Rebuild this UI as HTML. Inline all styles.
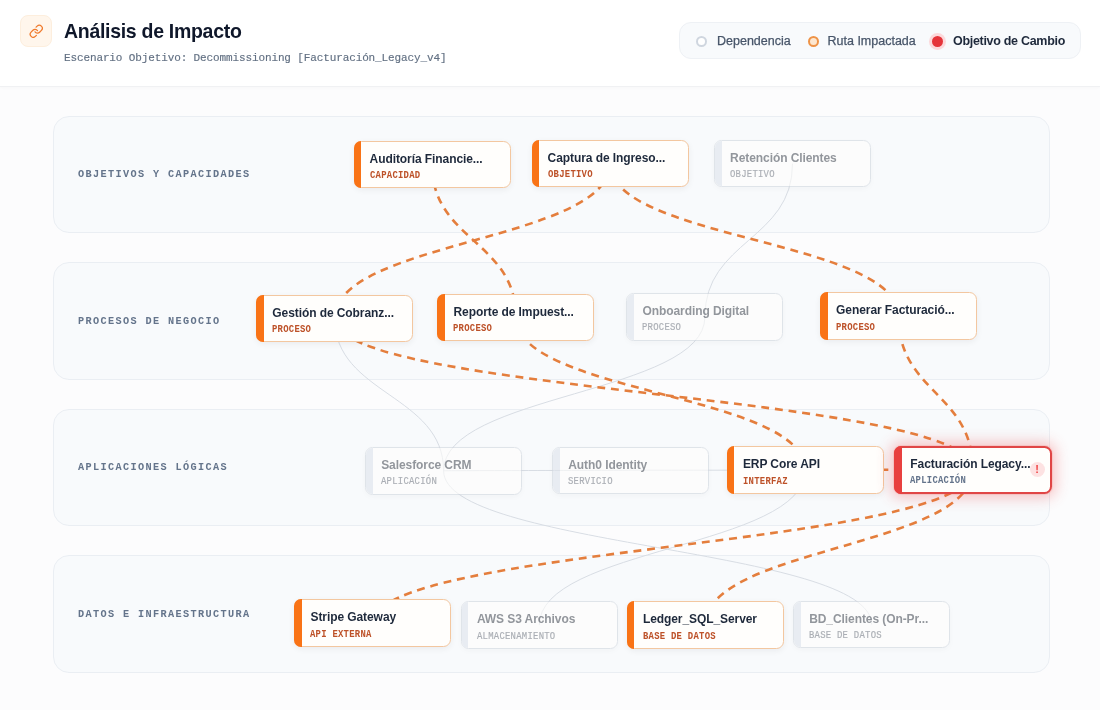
<!DOCTYPE html><html><head><meta charset="utf-8"><title>Análisis de Impacto</title><style>
*{box-sizing:border-box;margin:0;padding:0}
html,body{width:1100px;height:710px;overflow:hidden}
body{will-change:transform;background:#fcfcfd;font-family:"Liberation Sans",sans-serif;position:relative}
.hdr{position:absolute;left:0;top:0;width:1100px;height:87px;background:#fff;border-bottom:1px solid #f0f1f3;box-shadow:0 1px 3px rgba(0,0,0,0.025)}
.ico{position:absolute;left:20px;top:15px;width:32px;height:32px;border-radius:8px;background:#fff6ec;border:1px solid #fdeedd}
.ico svg{position:absolute;left:7.75px;top:7.75px}
.title{position:absolute;left:64px;top:20.85px;font-size:20.5px;line-height:20.5px;font-weight:700;color:#0f172a;white-space:nowrap;letter-spacing:-0.3px;transform:scaleX(0.95);transform-origin:0 0}
.sub{position:absolute;left:64px;top:53px;font-family:"Liberation Mono",monospace;font-size:11px;line-height:11px;letter-spacing:-0.12px;color:#627083;white-space:nowrap;-webkit-text-stroke:0.15px #627083}
.leg{position:absolute;left:679px;top:22px;width:402px;height:37px;border-radius:12px;background:#f8fafc;border:1px solid #eef1f5}
.li{position:absolute;top:0.7px;height:35px;line-height:35px;font-size:12.5px;color:#475569;white-space:nowrap;-webkit-text-stroke:0.25px #475569}
.dot{position:absolute;border-radius:50%}
.lane{position:absolute;left:52.5px;width:997.5px;height:117.6px;border-radius:16px;background:#f8fafc;border:1px solid #eaeef3}
.lbl{position:absolute;left:77.6px;font-family:"Liberation Mono",monospace;font-weight:700;font-size:11.5px;line-height:11.5px;letter-spacing:1.52px;color:#64748b;white-space:nowrap;transform:scaleX(0.89);transform-origin:0 0}
svg.edges{position:absolute;left:0;top:0}
.node{position:absolute;width:157px;height:47.5px;border-radius:7.5px;background:#fffefc;border:1px solid #f3c7a0;box-shadow:0 2px 6px rgba(15,23,42,0.06)}
.node .bar{position:absolute;left:-1px;top:-1px;bottom:-1px;width:7.5px;border-radius:7px 0 0 7px;background:#f97316}
.node .t{position:absolute;left:15.1px;top:10px;font-size:12px;font-weight:700;color:#1e293b;white-space:nowrap;letter-spacing:-0.08px}
.node .s{position:absolute;left:15.1px;top:28.3px;font-family:"Liberation Mono",monospace;font-weight:700;font-size:10.5px;line-height:10.5px;color:#bd5128;white-space:nowrap;letter-spacing:0.29px;transform:scaleX(0.85);transform-origin:0 0}
.node.f{opacity:0.6;border-color:#d0d6de;box-shadow:0 2px 6px rgba(15,23,42,0.05)}
.node.f .bar{left:0;top:0;bottom:0;width:6.5px;border-radius:6.5px 0 0 6.5px;background:#dfe4ec}
.node.f .t{color:#4f545d}
.node.f .s{color:#787d86;font-weight:400;-webkit-text-stroke:0.2px #787d86}
.node.t{width:158px;height:48px;border:2px solid #e04646;box-shadow:0 0 0 1px rgba(239,68,68,0.12),0 0 14px 4px rgba(239,68,68,0.3)}
.node.t .bar{left:-2px;top:-2px;bottom:-2px;width:8.3px;border-radius:7px 0 0 7px;background:#e8403f}
.node.t .t{left:14.1px;top:9px}
.node.t .s{left:14.1px;top:27.3px;color:#64748b}
.bang{position:absolute;width:15px;height:15px;border-radius:50%;background:#fde2e2;color:#ef4444;font-size:11px;font-weight:700;text-align:center;line-height:15px}
</style></head><body>
<div class="hdr">
<div class="ico"><svg width="14.5" height="14.5" viewBox="0 0 24 24" fill="none" stroke="#f07a2c" stroke-width="2.1" stroke-linecap="round" stroke-linejoin="round"><path d="M10 13a5 5 0 0 0 7.54.54l3-3a5 5 0 0 0-7.07-7.07l-1.72 1.71"/><path d="M14 11a5 5 0 0 0-7.54-.54l-3 3a5 5 0 0 0 7.07 7.07l1.71-1.71"/></svg></div>
<div class="title">Análisis de Impacto</div>
<div class="sub">Escenario Objetivo: Decommissioning [Facturación_Legacy_v4]</div>
<div class="leg">
<div class="dot" style="left:16px;top:12.5px;width:11px;height:11px;border:2px solid #cfd6df;background:#fff"></div>
<div class="li" style="left:37px">Dependencia</div>
<div class="dot" style="left:127.5px;top:12.5px;width:11px;height:11px;border:2px solid #ee9347;background:#fde7d0"></div>
<div class="li" style="left:147.5px">Ruta Impactada</div>
<div class="dot" style="left:251.5px;top:12.5px;width:11px;height:11px;background:#e5343a;box-shadow:0 0 0 3px #fcd9db"></div>
<div class="li" style="left:273px;font-weight:700;color:#1e293b;-webkit-text-stroke:0;letter-spacing:-0.3px">Objetivo de Cambio</div>
</div></div>
<div class="lane" style="top:115.6px"></div>
<div class="lbl" style="top:168.1px">OBJETIVOS Y CAPACIDADES</div>
<div class="lane" style="top:262.1px"></div>
<div class="lbl" style="top:314.6px">PROCESOS DE NEGOCIO</div>
<div class="lane" style="top:408.8px"></div>
<div class="lbl" style="top:461.3px">APLICACIONES LÓGICAS</div>
<div class="lane" style="top:555.4px"></div>
<div class="lbl" style="top:607.9px">DATOS E INFRAESTRUCTURA</div>
<svg class="edges" width="1100" height="710" viewBox="0 0 1100 710"><path d="M792.5,163.7 C792.5,240.3 704.9,240.3 704.9,316.9" fill="none" stroke="#d8dde4" stroke-width="1"/><path d="M704.9,316.9 C704.9,393.9 443.6,393.9 443.6,470.8" fill="none" stroke="#d8dde4" stroke-width="1"/><path d="M334.7,318.4 C334.7,394.6 443.6,394.6 443.6,470.8" fill="none" stroke="#d8dde4" stroke-width="1"/><path d="M443.6,470.8 C443.6,547.6 871.6,547.6 871.6,624.5" fill="none" stroke="#d8dde4" stroke-width="1"/><path d="M443.6,470.8 C443.6,470.5 630.7,470.5 630.7,470.2" fill="none" stroke="#d8dde4" stroke-width="1"/><path d="M630.7,470.2 C630.7,470.2 805.3,470.2 805.3,470.1" fill="none" stroke="#d8dde4" stroke-width="1"/><path d="M805.3,470.1 C805.3,547.6 539.3,547.6 539.3,625.1" fill="none" stroke="#d8dde4" stroke-width="1"/><path d="M432.0,164.2 C432.0,240.8 515.9,240.8 515.9,317.2" fill="none" stroke="#e47e3d" stroke-width="2.6" stroke-dasharray="7.9 5.85" stroke-dashoffset="-5.35"/><path d="M610.0,163.4 C610.0,240.9 334.7,240.9 334.7,318.4" fill="none" stroke="#e47e3d" stroke-width="2.6" stroke-dasharray="7.9 5.85" stroke-dashoffset="-7.25"/><path d="M610.0,163.4 C610.0,239.8 898.5,239.8 898.5,316.1" fill="none" stroke="#e47e3d" stroke-width="2.6" stroke-dasharray="7.9 5.85" stroke-dashoffset="-2.6"/><path d="M334.7,318.4 C334.7,393.9 972.7,393.9 972.7,469.4" fill="none" stroke="#e47e3d" stroke-width="2.6" stroke-dasharray="7.9 5.85" stroke-dashoffset="-3.9"/><path d="M515.9,317.2 C515.9,393.7 805.3,393.7 805.3,470.1" fill="none" stroke="#e47e3d" stroke-width="2.6" stroke-dasharray="7.9 5.85" stroke-dashoffset="-3.9"/><path d="M898.5,316.1 C898.5,392.8 972.7,392.8 972.7,469.4" fill="none" stroke="#e47e3d" stroke-width="2.6" stroke-dasharray="7.9 5.85" stroke-dashoffset="-0.7"/><path d="M805.3,470.1 C805.3,469.8 972.7,469.8 972.7,469.4" fill="none" stroke="#e47e3d" stroke-width="2.6" stroke-dasharray="7.9 5.85" stroke-dashoffset="-6.4"/><path d="M972.7,469.4 C972.7,546.3 372.9,546.3 372.9,623.1" fill="none" stroke="#e47e3d" stroke-width="2.6" stroke-dasharray="7.9 5.85" stroke-dashoffset="-5.6"/><path d="M972.7,469.4 C972.7,547.3 705.3,547.3 705.3,625.1" fill="none" stroke="#e47e3d" stroke-width="2.6" stroke-dasharray="7.9 5.85" stroke-dashoffset="-12.6"/></svg>
<div class="node" style="left:353.5px;top:140.5px"><div class="bar"></div><div class="t">Auditoría Financie...</div><div class="s">CAPACIDAD</div></div>
<div class="node" style="left:531.5px;top:139.7px"><div class="bar"></div><div class="t">Captura de Ingreso...</div><div class="s">OBJETIVO</div></div>
<div class="node f" style="left:714.0px;top:139.9px"><div class="bar"></div><div class="t">Retención Clientes</div><div class="s">OBJETIVO</div></div>
<div class="node" style="left:256.2px;top:294.6px"><div class="bar"></div><div class="t">Gestión de Cobranz...</div><div class="s">PROCESO</div></div>
<div class="node" style="left:437.4px;top:293.5px"><div class="bar"></div><div class="t">Reporte de Impuest...</div><div class="s">PROCESO</div></div>
<div class="node f" style="left:626.4px;top:293.2px"><div class="bar"></div><div class="t">Onboarding Digital</div><div class="s">PROCESO</div></div>
<div class="node" style="left:820.0px;top:292.4px"><div class="bar"></div><div class="t">Generar Facturació...</div><div class="s">PROCESO</div></div>
<div class="node f" style="left:365.1px;top:447.0px"><div class="bar"></div><div class="t">Salesforce CRM</div><div class="s">APLICACIÓN</div></div>
<div class="node f" style="left:552.2px;top:446.5px"><div class="bar"></div><div class="t">Auth0 Identity</div><div class="s">SERVICIO</div></div>
<div class="node" style="left:726.8px;top:446.4px"><div class="bar"></div><div class="t">ERP Core API</div><div class="s">INTERFAZ</div></div>
<div class="node t" style="left:894.2px;top:445.7px"><div class="bar"></div><div class="t">Facturación Legacy...</div><div class="s">APLICACIÓN</div></div>
<div class="bang" style="left:1029.7px;top:462.0px">!</div>
<div class="node" style="left:294.4px;top:599.4px"><div class="bar"></div><div class="t">Stripe Gateway</div><div class="s">API EXTERNA</div></div>
<div class="node f" style="left:460.8px;top:601.4px"><div class="bar"></div><div class="t">AWS S3 Archivos</div><div class="s">ALMACENAMIENTO</div></div>
<div class="node" style="left:626.8px;top:601.4px"><div class="bar"></div><div class="t">Ledger_SQL_Server</div><div class="s">BASE DE DATOS</div></div>
<div class="node f" style="left:793.1px;top:600.8px"><div class="bar"></div><div class="t">BD_Clientes (On-Pr...</div><div class="s">BASE DE DATOS</div></div>
</body></html>
